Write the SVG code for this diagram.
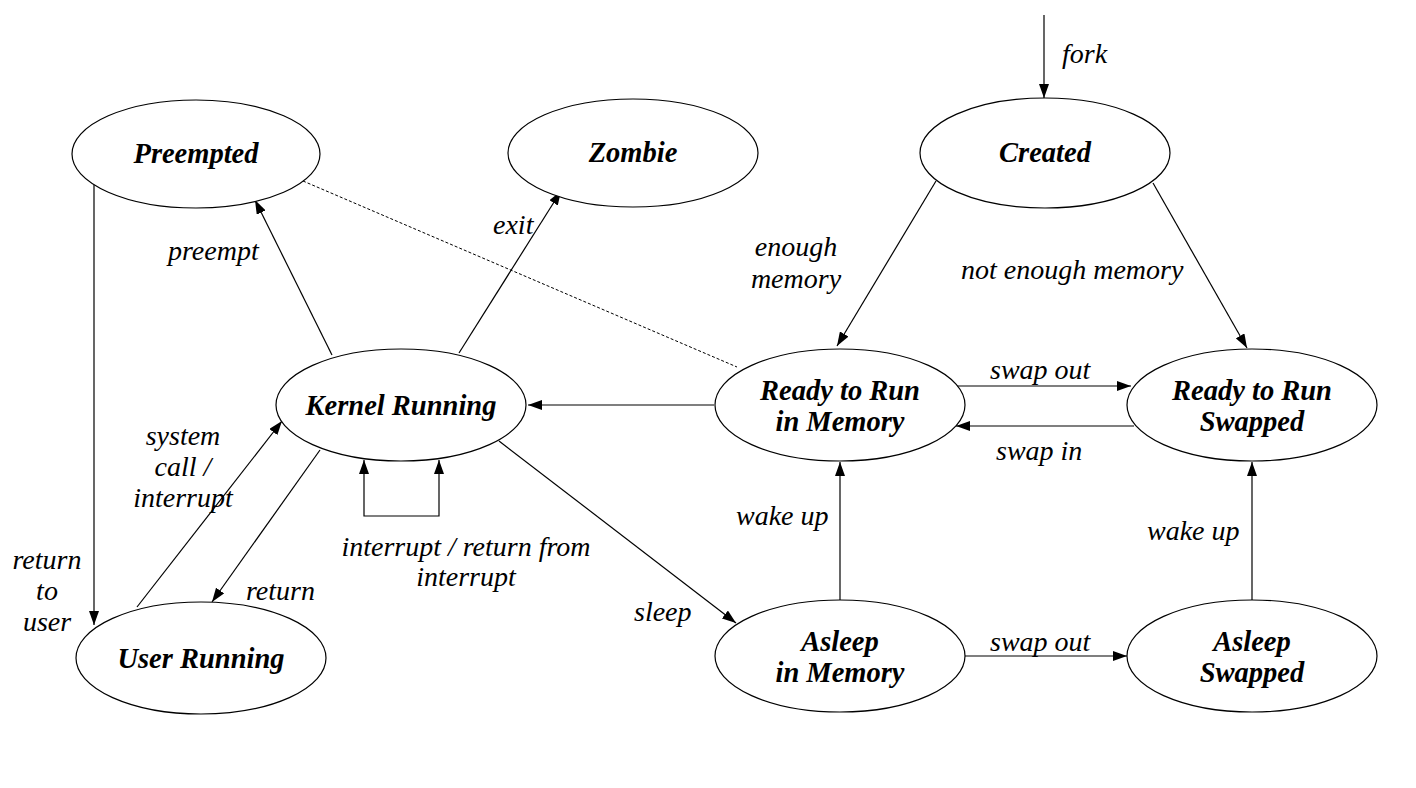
<svg xmlns="http://www.w3.org/2000/svg" width="1416" height="788" viewBox="0 0 1416 788">
<defs>
<marker id="ah" markerWidth="14" markerHeight="10" refX="14" refY="5" orient="auto" markerUnits="userSpaceOnUse">
<path d="M0,0 L14,5 L0,10 Z" fill="#000"/>
</marker>
<style>
.node ellipse{fill:#fff;stroke:#000;stroke-width:1.2}
.nl{font-family:"Liberation Serif",serif;font-weight:bold;font-style:italic;font-size:28.5px;text-anchor:middle}
.el{font-family:"Liberation Serif",serif;font-style:italic;font-size:28px}
.c{fill:none;stroke:#000;stroke-width:1.2;marker-end:url(#ah)}
.d{fill:none;stroke:#000;stroke-width:1;stroke-dasharray:3,2}
</style>
</defs>
<rect width="1416" height="788" fill="#fff"/>
<g id="connectors">
<line class="c" x1="1044" y1="15" x2="1044" y2="98"/>
<line class="c" x1="94" y1="185" x2="94" y2="625"/>
<line class="c" x1="332" y1="355" x2="255" y2="200"/>
<line class="c" x1="459" y1="353" x2="561" y2="191"/>
<line class="d" x1="303" y1="181" x2="737" y2="367"/>
<line class="c" x1="936" y1="181" x2="837" y2="346"/>
<line class="c" x1="1153" y1="183" x2="1247" y2="348"/>
<line class="c" x1="714" y1="405" x2="528" y2="405"/>
<line class="c" x1="957" y1="386" x2="1131" y2="386"/>
<line class="c" x1="1134" y1="426" x2="956" y2="426"/>
<line class="c" x1="840" y1="600" x2="840" y2="462"/>
<line class="c" x1="1252" y1="600" x2="1252" y2="462"/>
<line class="c" x1="965" y1="656" x2="1127" y2="656"/>
<line class="c" x1="499" y1="441" x2="736" y2="623"/>
<line class="c" x1="137" y1="607" x2="282" y2="421"/>
<line class="c" x1="320" y1="450" x2="212" y2="602"/>
<path class="c" d="M401,516 L364,516 L364,460"/>
<path class="c" d="M401,516 L439,516 L439,460"/>
</g>
<g id="labels">
<text class="el" x="1062" y="63">fork</text>
<text class="el" x="168" y="260">preempt</text>
<text class="el" x="493" y="234">exit</text>
<text class="el" x="796" y="256" text-anchor="middle">enough</text>
<text class="el" x="796" y="288" text-anchor="middle">memory</text>
<text class="el" x="961" y="279">not enough memory</text>
<text class="el" x="990" y="379">swap out</text>
<text class="el" x="996" y="460">swap in</text>
<text class="el" x="183" y="445" text-anchor="middle">system</text>
<text class="el" x="183" y="476" text-anchor="middle">call /</text>
<text class="el" x="183" y="507" text-anchor="middle">interrupt</text>
<text class="el" x="47" y="569" text-anchor="middle">return</text>
<text class="el" x="47" y="600" text-anchor="middle">to</text>
<text class="el" x="47" y="631" text-anchor="middle">user</text>
<text class="el" x="246" y="600">return</text>
<text class="el" x="466" y="556" text-anchor="middle">interrupt / return from</text>
<text class="el" x="466" y="586" text-anchor="middle">interrupt</text>
<text class="el" x="634" y="621">sleep</text>
<text class="el" x="736" y="525">wake up</text>
<text class="el" x="1147" y="540">wake up</text>
<text class="el" x="990" y="651">swap out</text>
</g>
<g id="preempted" class="node"><ellipse cx="196" cy="154" rx="124" ry="54"/><text class="nl" x="196" y="163">Preempted</text></g>
<g id="zombie" class="node"><ellipse cx="633" cy="153" rx="125" ry="54"/><text class="nl" x="633" y="162">Zombie</text></g>
<g id="created" class="node"><ellipse cx="1045" cy="153" rx="125" ry="55"/><text class="nl" x="1045" y="162">Created</text></g>
<g id="kernel-running" class="node"><ellipse cx="401" cy="405" rx="125" ry="56"/><text class="nl" x="401" y="415">Kernel Running</text></g>
<g id="ready-memory" class="node"><ellipse cx="840" cy="405" rx="125" ry="56"/><text class="nl" x="840" y="400">Ready to Run</text><text class="nl" x="840" y="431">in Memory</text></g>
<g id="ready-swapped" class="node"><ellipse cx="1252" cy="405" rx="125" ry="56"/><text class="nl" x="1252" y="400">Ready to Run</text><text class="nl" x="1252" y="431">Swapped</text></g>
<g id="user-running" class="node"><ellipse cx="201" cy="658" rx="125" ry="56"/><text class="nl" x="201" y="668">User Running</text></g>
<g id="asleep-memory" class="node"><ellipse cx="840" cy="656" rx="125" ry="56"/><text class="nl" x="840" y="651">Asleep</text><text class="nl" x="840" y="682">in Memory</text></g>
<g id="asleep-swapped" class="node"><ellipse cx="1252" cy="656" rx="125" ry="56"/><text class="nl" x="1252" y="651">Asleep</text><text class="nl" x="1252" y="682">Swapped</text></g>
</svg>
